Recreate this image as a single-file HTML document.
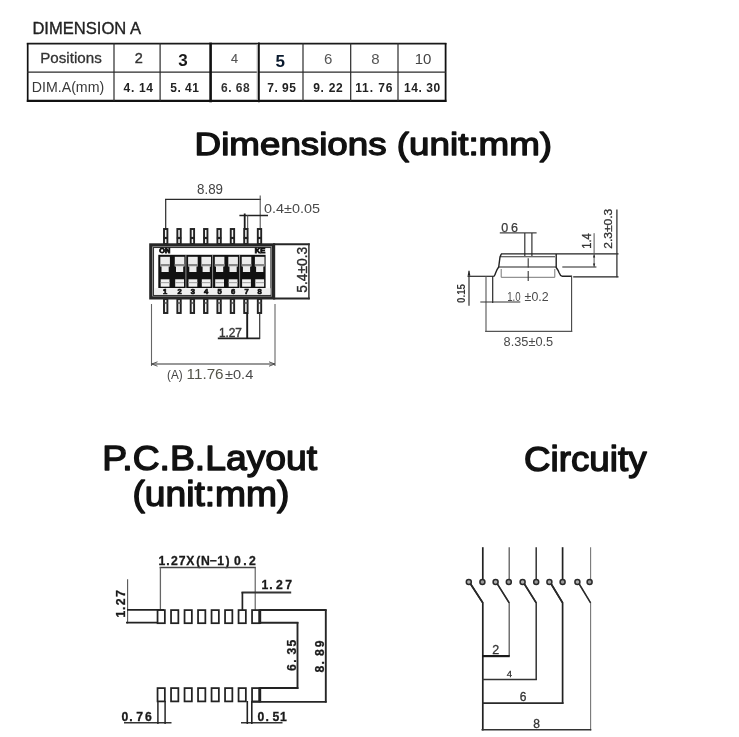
<!DOCTYPE html>
<html>
<head>
<meta charset="utf-8">
<title>Dimensions</title>
<style>
html,body{margin:0;padding:0;background:#fff;}
body{width:739px;height:737px;overflow:hidden;position:relative;font-family:"Liberation Sans",sans-serif;}
svg{position:absolute;left:0;top:0;filter:blur(0.4px);}
text{font-family:"Liberation Sans",sans-serif;}
.h{fill:#111;stroke:#111;stroke-linejoin:round;}
</style>
</head>
<body>
<svg width="739" height="737" viewBox="0 0 739 737">
<rect x="0" y="0" width="739" height="737" fill="#fff"/>

<!-- ===== TABLE ===== -->
<g id="table">
<text x="32.4" y="33.7" font-size="17" fill="#222" stroke="#222" stroke-width="0.35" textLength="108.6" lengthAdjust="spacingAndGlyphs">DIMENSION A</text>
<line x1="26.8" y1="43.6" x2="446.4" y2="43.6" stroke="#1a1a1a" stroke-width="1.7"/>
<line x1="26.8" y1="100.9" x2="446.4" y2="100.9" stroke="#111" stroke-width="2.3"/>
<line x1="27.7" y1="43" x2="27.7" y2="102" stroke="#111" stroke-width="1.7"/>
<line x1="445.6" y1="43" x2="445.6" y2="102" stroke="#111" stroke-width="1.8"/>
<line x1="27" y1="72.1" x2="446" y2="72.1" stroke="#2a2a2a" stroke-width="1.2"/>
<line x1="114" y1="43" x2="114" y2="101" stroke="#2a2a2a" stroke-width="1.2"/>
<line x1="160.1" y1="43" x2="160.1" y2="101" stroke="#2a2a2a" stroke-width="1.2"/>
<line x1="210.6" y1="42.6" x2="210.6" y2="102.3" stroke="#111" stroke-width="2.6"/>
<line x1="257.3" y1="44" x2="257.3" y2="100" stroke="#aaa" stroke-width="1.2"/>
<line x1="258.9" y1="42.6" x2="258.9" y2="102.3" stroke="#111" stroke-width="1.8"/>
<line x1="303" y1="43" x2="303" y2="101" stroke="#2a2a2a" stroke-width="1.2"/>
<line x1="350.7" y1="43" x2="350.7" y2="101" stroke="#2a2a2a" stroke-width="1.2"/>
<line x1="398" y1="43" x2="398" y2="101" stroke="#2a2a2a" stroke-width="1.2"/>
<g fill="#333" text-anchor="middle">
<text x="71" y="63.4" font-size="15.2" stroke="#333" stroke-width="0.3" textLength="61.5" lengthAdjust="spacingAndGlyphs">Positions</text>
<text x="138.8" y="63.4" font-size="14.5" stroke="#333" stroke-width="0.4">2</text>
<text x="183" y="65.9" font-size="17" font-weight="bold" fill="#1a1a1a">3</text>
<text x="234.5" y="63.4" font-size="12.5" fill="#555" stroke="#555" stroke-width="0.2">4</text>
<text x="280.2" y="66.5" font-size="17" font-weight="bold" fill="#0a1a2e">5</text>
<text x="328.2" y="63.8" font-size="15" fill="#555">6</text>
<text x="375.4" y="63.8" font-size="15" fill="#555">8</text>
<text x="423" y="63.8" font-size="15" fill="#444">10</text>
<text x="68" y="92.4" font-size="14.3" fill="#3a3a3a" textLength="72.4" lengthAdjust="spacingAndGlyphs">DIM.A(mm)</text>
</g>
<g font-size="12" fill="#222" font-weight="bold" lengthAdjust="spacing">
<text x="123.5" y="91.7" textLength="29.5" lengthAdjust="spacing">4. 14</text>
<text x="170.3" y="91.5" textLength="28.6" lengthAdjust="spacing">5. 41</text>
<text x="221" y="91.5" textLength="28.6" lengthAdjust="spacing" fill="#333">6. 68</text>
<text x="267.3" y="91.5" textLength="28.6" lengthAdjust="spacing">7. 95</text>
<text x="313.2" y="91.5" textLength="29.6" lengthAdjust="spacing">9. 22</text>
<text x="355.2" y="91.5" textLength="37.2" lengthAdjust="spacing">11. 76</text>
<text x="404" y="91.5" textLength="36.2" lengthAdjust="spacing">14. 30</text>
</g>
</g>

<!-- ===== HEADINGS ===== -->
<text class="h" x="194.6" y="155" font-size="31.3" stroke-width="1.3" textLength="357.5" lengthAdjust="spacingAndGlyphs">Dimensions (unit:mm)</text>
<text class="h" x="102.2" y="469.6" font-size="35.5" stroke-width="1.4" textLength="215" lengthAdjust="spacingAndGlyphs">P.C.B.Layout</text>
<text class="h" x="132.4" y="505.5" font-size="35.5" stroke-width="1.4" textLength="157" lengthAdjust="spacingAndGlyphs">(unit:mm)</text>
<text class="h" x="524" y="470.8" font-size="35.5" stroke-width="1.4" textLength="122.6" lengthAdjust="spacingAndGlyphs">Circuity</text>

<!-- ===== DIP TOP VIEW ===== -->
<g id="dip">
<text x="197" y="194.3" font-size="14" fill="#444" textLength="26" lengthAdjust="spacingAndGlyphs">8.89</text>
<line x1="165" y1="199.4" x2="261" y2="199.4" stroke="#2a2a2a" stroke-width="1.2"/>
<line x1="165.7" y1="199" x2="165.7" y2="229" stroke="#2a2a2a" stroke-width="1.2"/>
<line x1="260.2" y1="195.5" x2="260.2" y2="229" stroke="#555" stroke-width="1.1"/>
<text x="264" y="212.8" font-size="13.5" fill="#4a4a4a" textLength="56" lengthAdjust="spacingAndGlyphs">0.4±0.05</text>
<line x1="239.4" y1="215.5" x2="268" y2="215.5" stroke="#222" stroke-width="1.5"/>
<line x1="244.7" y1="213.5" x2="244.7" y2="229" stroke="#1a1a1a" stroke-width="1.8"/><line x1="247.7" y1="215" x2="247.7" y2="229" stroke="#444" stroke-width="1"/>
<rect x="164.00" y="229" width="3.4" height="15" fill="#f4f4f4" stroke="#222" stroke-width="1.9"/>
<line x1="163.50" y1="238" x2="167.90" y2="238" stroke="#222" stroke-width="2.2"/>
<rect x="164.00" y="299" width="3.4" height="14" fill="#f4f4f4" stroke="#222" stroke-width="1.9"/>
<line x1="163.50" y1="303" x2="167.90" y2="303" stroke="#444" stroke-width="1.4"/>
<rect x="177.35" y="229" width="3.4" height="15" fill="#f4f4f4" stroke="#222" stroke-width="1.9"/>
<line x1="176.85" y1="238" x2="181.25" y2="238" stroke="#222" stroke-width="2.2"/>
<rect x="177.35" y="299" width="3.4" height="14" fill="#f4f4f4" stroke="#222" stroke-width="1.9"/>
<line x1="176.85" y1="303" x2="181.25" y2="303" stroke="#444" stroke-width="1.4"/>
<rect x="190.70" y="229" width="3.4" height="15" fill="#f4f4f4" stroke="#222" stroke-width="1.9"/>
<line x1="190.20" y1="238" x2="194.60" y2="238" stroke="#222" stroke-width="2.2"/>
<rect x="190.70" y="299" width="3.4" height="14" fill="#f4f4f4" stroke="#222" stroke-width="1.9"/>
<line x1="190.20" y1="303" x2="194.60" y2="303" stroke="#444" stroke-width="1.4"/>
<rect x="204.05" y="229" width="3.4" height="15" fill="#f4f4f4" stroke="#222" stroke-width="1.9"/>
<line x1="203.55" y1="238" x2="207.95" y2="238" stroke="#222" stroke-width="2.2"/>
<rect x="204.05" y="299" width="3.4" height="14" fill="#f4f4f4" stroke="#222" stroke-width="1.9"/>
<line x1="203.55" y1="303" x2="207.95" y2="303" stroke="#444" stroke-width="1.4"/>
<rect x="217.40" y="229" width="3.4" height="15" fill="#f4f4f4" stroke="#222" stroke-width="1.9"/>
<line x1="216.90" y1="238" x2="221.30" y2="238" stroke="#222" stroke-width="2.2"/>
<rect x="217.40" y="299" width="3.4" height="14" fill="#f4f4f4" stroke="#222" stroke-width="1.9"/>
<line x1="216.90" y1="303" x2="221.30" y2="303" stroke="#444" stroke-width="1.4"/>
<rect x="230.75" y="229" width="3.4" height="15" fill="#f4f4f4" stroke="#222" stroke-width="1.9"/>
<line x1="230.25" y1="238" x2="234.65" y2="238" stroke="#222" stroke-width="2.2"/>
<rect x="230.75" y="299" width="3.4" height="14" fill="#f4f4f4" stroke="#222" stroke-width="1.9"/>
<line x1="230.25" y1="303" x2="234.65" y2="303" stroke="#444" stroke-width="1.4"/>
<rect x="244.20" y="229" width="3.4" height="15" fill="#f4f4f4" stroke="#222" stroke-width="1.9"/>
<line x1="243.70" y1="238" x2="248.10" y2="238" stroke="#222" stroke-width="2.2"/>
<rect x="244.20" y="299" width="3.4" height="14" fill="#f4f4f4" stroke="#222" stroke-width="1.9"/>
<line x1="243.70" y1="303" x2="248.10" y2="303" stroke="#444" stroke-width="1.4"/>
<rect x="257.80" y="229" width="3.4" height="15" fill="#f4f4f4" stroke="#222" stroke-width="1.9"/>
<line x1="257.30" y1="238" x2="261.70" y2="238" stroke="#222" stroke-width="2.2"/>
<rect x="257.80" y="299" width="3.4" height="14" fill="#f4f4f4" stroke="#222" stroke-width="1.9"/>
<line x1="257.30" y1="303" x2="261.70" y2="303" stroke="#444" stroke-width="1.4"/>
<rect x="150.8" y="244.9" width="122.8" height="53" fill="#fff" stroke="#262626" stroke-width="3.2"/>
<rect x="153.4" y="247.4" width="117.6" height="48" fill="none" stroke="#333" stroke-width="1.3"/>
<rect x="158.3" y="254.8" width="107.3" height="33.2" fill="#111"/>
<rect x="154" y="288.2" width="116.5" height="6.6" fill="#efefef"/>
<rect x="160.30" y="256.8" width="9.6" height="9.7" fill="#ececec"/>
<rect x="161.50" y="266" width="7.2" height="6" fill="#ececec"/>
<rect x="160.30" y="264" width="9.6" height="2.2" fill="#888"/>
<rect x="160.70" y="279.3" width="8.8" height="7.4" fill="#f0f0f0"/>
<rect x="160.70" y="282" width="8.8" height="1.2" fill="#aaa"/>
<text x="165.10" y="294.1" font-size="7.5" font-weight="bold" fill="#111" stroke="#111" stroke-width="0.7" text-anchor="middle">1</text>
<rect x="174.80" y="256.8" width="9.6" height="9.7" fill="#ececec"/>
<rect x="176.00" y="266" width="7.2" height="6" fill="#ececec"/>
<rect x="174.80" y="264" width="9.6" height="2.2" fill="#888"/>
<rect x="175.20" y="279.3" width="8.8" height="7.4" fill="#f0f0f0"/>
<rect x="175.20" y="282" width="8.8" height="1.2" fill="#aaa"/>
<text x="179.60" y="294.1" font-size="7.5" font-weight="bold" fill="#111" stroke="#111" stroke-width="0.7" text-anchor="middle">2</text>
<rect x="188.10" y="256.8" width="9.6" height="9.7" fill="#ececec"/>
<rect x="189.30" y="266" width="7.2" height="6" fill="#ececec"/>
<rect x="188.10" y="264" width="9.6" height="2.2" fill="#888"/>
<rect x="188.50" y="279.3" width="8.8" height="7.4" fill="#f0f0f0"/>
<rect x="188.50" y="282" width="8.8" height="1.2" fill="#aaa"/>
<text x="192.90" y="294.1" font-size="7.5" font-weight="bold" fill="#111" stroke="#111" stroke-width="0.7" text-anchor="middle">3</text>
<rect x="201.40" y="256.8" width="9.6" height="9.7" fill="#ececec"/>
<rect x="202.60" y="266" width="7.2" height="6" fill="#ececec"/>
<rect x="201.40" y="264" width="9.6" height="2.2" fill="#888"/>
<rect x="201.80" y="279.3" width="8.8" height="7.4" fill="#f0f0f0"/>
<rect x="201.80" y="282" width="8.8" height="1.2" fill="#aaa"/>
<text x="206.20" y="294.1" font-size="7.5" font-weight="bold" fill="#111" stroke="#111" stroke-width="0.7" text-anchor="middle">4</text>
<rect x="214.80" y="256.8" width="9.6" height="9.7" fill="#ececec"/>
<rect x="216.00" y="266" width="7.2" height="6" fill="#ececec"/>
<rect x="214.80" y="264" width="9.6" height="2.2" fill="#888"/>
<rect x="215.20" y="279.3" width="8.8" height="7.4" fill="#f0f0f0"/>
<rect x="215.20" y="282" width="8.8" height="1.2" fill="#aaa"/>
<text x="219.60" y="294.1" font-size="7.5" font-weight="bold" fill="#111" stroke="#111" stroke-width="0.7" text-anchor="middle">5</text>
<rect x="228.30" y="256.8" width="9.6" height="9.7" fill="#ececec"/>
<rect x="229.50" y="266" width="7.2" height="6" fill="#ececec"/>
<rect x="228.30" y="264" width="9.6" height="2.2" fill="#888"/>
<rect x="228.70" y="279.3" width="8.8" height="7.4" fill="#f0f0f0"/>
<rect x="228.70" y="282" width="8.8" height="1.2" fill="#aaa"/>
<text x="233.10" y="294.1" font-size="7.5" font-weight="bold" fill="#111" stroke="#111" stroke-width="0.7" text-anchor="middle">6</text>
<rect x="241.70" y="256.8" width="9.6" height="9.7" fill="#ececec"/>
<rect x="242.90" y="266" width="7.2" height="6" fill="#ececec"/>
<rect x="241.70" y="264" width="9.6" height="2.2" fill="#888"/>
<rect x="242.10" y="279.3" width="8.8" height="7.4" fill="#f0f0f0"/>
<rect x="242.10" y="282" width="8.8" height="1.2" fill="#aaa"/>
<text x="246.50" y="294.1" font-size="7.5" font-weight="bold" fill="#111" stroke="#111" stroke-width="0.7" text-anchor="middle">7</text>
<rect x="254.90" y="256.8" width="9.6" height="9.7" fill="#ececec"/>
<rect x="256.10" y="266" width="7.2" height="6" fill="#ececec"/>
<rect x="254.90" y="264" width="9.6" height="2.2" fill="#888"/>
<rect x="255.30" y="279.3" width="8.8" height="7.4" fill="#f0f0f0"/>
<rect x="255.30" y="282" width="8.8" height="1.2" fill="#aaa"/>
<text x="259.70" y="294.1" font-size="7.5" font-weight="bold" fill="#111" stroke="#111" stroke-width="0.7" text-anchor="middle">8</text>
<line x1="185.9" y1="255" x2="185.9" y2="288" stroke="#999" stroke-width="0.9"/>
<line x1="212.6" y1="255" x2="212.6" y2="288" stroke="#999" stroke-width="0.9"/>
<line x1="239.6" y1="255" x2="239.6" y2="288" stroke="#999" stroke-width="0.9"/>
<text x="159.3" y="253.4" font-size="6.5" font-weight="bold" fill="#111" stroke="#111" stroke-width="0.8" textLength="11" lengthAdjust="spacingAndGlyphs">ON</text>
<text x="254.8" y="253" font-size="6.5" font-weight="bold" fill="#111" stroke="#111" stroke-width="0.8" textLength="10.5" lengthAdjust="spacingAndGlyphs">KE</text>
<line x1="273" y1="244.3" x2="309.8" y2="244.3" stroke="#262626" stroke-width="2"/>
<line x1="273" y1="298.4" x2="309.8" y2="298.4" stroke="#262626" stroke-width="2"/>
<line x1="308.9" y1="243.5" x2="308.9" y2="299.3" stroke="#333" stroke-width="1.5"/>
<text transform="translate(306.6,292.8) rotate(-90)" font-size="14" fill="#2a2a2a" stroke="#2a2a2a" stroke-width="0.35" textLength="46" lengthAdjust="spacingAndGlyphs">5.4±0.3</text>
<text x="218.9" y="336.7" font-size="12" fill="#3a3a3a" stroke="#3a3a3a" stroke-width="0.45" textLength="23" lengthAdjust="spacingAndGlyphs">1.27</text>
<line x1="217.8" y1="338.3" x2="260" y2="338.3" stroke="#222" stroke-width="1.8"/>
<line x1="247.2" y1="313" x2="247.2" y2="339" stroke="#1a1a1a" stroke-width="1.9"/>
<line x1="259.7" y1="313" x2="259.7" y2="339" stroke="#333" stroke-width="1.2"/>
<line x1="151.5" y1="304" x2="151.5" y2="366" stroke="#666" stroke-width="1.1"/>
<line x1="275" y1="304" x2="275" y2="366" stroke="#666" stroke-width="1.1"/>
<line x1="151.5" y1="364" x2="275" y2="364" stroke="#333" stroke-width="1.2"/>
<path d="M157.5 361.8 L151.8 364 L157.5 366.2 M269 361.8 L274.7 364 L269 366.2" stroke="#444" stroke-width="0.9" fill="none"/>
<text x="167" y="379.2" font-size="13.5" fill="#444" textLength="15.6" lengthAdjust="spacingAndGlyphs">(A)</text>
<text x="186.6" y="379.1" font-size="13.8" fill="#55554a" textLength="37" lengthAdjust="spacingAndGlyphs">11.76</text>
<text x="225" y="379.3" font-size="13.5" fill="#4a4a4a" textLength="28.3" lengthAdjust="spacingAndGlyphs">±0.4</text>
</g>

<!-- ===== SIDE VIEW ===== -->
<g id="side">
<text x="501.2" y="231.5" font-size="12.5" fill="#3a3a3a" stroke="#3a3a3a" stroke-width="0.25" textLength="16.8" lengthAdjust="spacing">0 6</text>
<line x1="499.8" y1="232.9" x2="536.6" y2="232.9" stroke="#444" stroke-width="1.1"/>
<line x1="524.8" y1="232.9" x2="524.8" y2="256" stroke="#333" stroke-width="1.2"/>
<line x1="531.9" y1="232.9" x2="531.9" y2="256" stroke="#333" stroke-width="1.2"/>
<line x1="501" y1="253.9" x2="618.5" y2="253.9" stroke="#222" stroke-width="1.3"/>
<line x1="500" y1="256.8" x2="555" y2="256.8" stroke="#333" stroke-width="1.1"/>
<path d="M501.3 253.9 L500 257 L498.7 267 C497.5 268.5 496.5 270.5 495.7 272.8 C495.2 274.5 494.8 275.6 494 276.2" stroke="#222" stroke-width="1.4" fill="none"/>
<path d="M556.2 253.9 L556.2 267.5 C557.3 269 558.3 270.5 559 272.5 C559.8 274.6 560.6 275.8 562 276.2 L571.8 276.2" stroke="#222" stroke-width="1.4" fill="none"/>
<line x1="498.7" y1="267" x2="556.2" y2="267" stroke="#222" stroke-width="1.2"/>
<path d="M501.2 269 L501.2 277.3 L554.8 277.3 L554.8 269" stroke="#777" stroke-width="1" fill="none"/>
<line x1="528.2" y1="258.2" x2="528.2" y2="267.5" stroke="#333" stroke-width="1.1"/>
<line x1="528.2" y1="271" x2="528.2" y2="281" stroke="#333" stroke-width="1.1"/>
<line x1="467.5" y1="276.3" x2="494.3" y2="276.3" stroke="#2a2a2a" stroke-width="1.2"/>
<line x1="469" y1="270.7" x2="469" y2="305.7" stroke="#333" stroke-width="1.2"/>
<path d="M467.6 275.5 L469 270.5 L470.4 275.5 Z" fill="#222"/>
<text transform="translate(465.2,303) rotate(-90)" font-size="10" font-weight="bold" fill="#333" textLength="19" lengthAdjust="spacingAndGlyphs">0.15</text>
<line x1="486" y1="276.3" x2="486" y2="332" stroke="#555" stroke-width="1.1"/>
<line x1="492.7" y1="276.3" x2="492.7" y2="303" stroke="#2a2a2a" stroke-width="1.2"/>
<line x1="480.3" y1="302" x2="520.3" y2="302" stroke="#333" stroke-width="1.1"/>
<text x="507.2" y="301.2" font-size="12" fill="#4a4a4a" textLength="13.4" lengthAdjust="spacingAndGlyphs">1.0</text>
<text x="524.6" y="301.2" font-size="12" fill="#4a4a4a" textLength="24" lengthAdjust="spacingAndGlyphs">±0.2</text>
<line x1="571.6" y1="275.8" x2="571.6" y2="332" stroke="#444" stroke-width="1.1"/>
<line x1="485.2" y1="331.4" x2="572.2" y2="331.4" stroke="#555" stroke-width="1.1"/>
<text x="503.6" y="346.4" font-size="13.2" fill="#4a4a4a" textLength="49.6" lengthAdjust="spacingAndGlyphs">8.35±0.5</text>
<line x1="562.3" y1="267" x2="596.4" y2="267" stroke="#222" stroke-width="1.2"/>
<line x1="594.1" y1="233.2" x2="594.1" y2="267" stroke="#555" stroke-width="1"/>
<path d="M593 257.5 L594.1 254.3 L595.2 257.5 Z M593 263.5 L594.1 266.8 L595.2 263.5 Z" fill="#222"/>
<text transform="translate(591.3,248.8) rotate(-90)" font-size="12" fill="#333" stroke="#333" stroke-width="0.3" textLength="15.5" lengthAdjust="spacingAndGlyphs">1.4</text>
<line x1="573.2" y1="276.9" x2="618.5" y2="276.9" stroke="#222" stroke-width="1.3"/>
<line x1="616.9" y1="209.5" x2="616.9" y2="277.3" stroke="#333" stroke-width="1.3"/>
<text transform="translate(612.3,248.8) rotate(-90)" font-size="11.5" fill="#333" stroke="#333" stroke-width="0.3" textLength="40" lengthAdjust="spacingAndGlyphs">2.3±0.3</text>
</g>

<!-- ===== PCB ===== -->
<g id="pcb">
<text x="162.0 167.9 174.4 182.1 190.2 198.4 205.3 213.1 220.6 227.6 237.3 245.0 252.5" y="565.2" font-size="12.2" font-weight="bold" fill="#1a1a1a" stroke="#1a1a1a" stroke-width="0.3" text-anchor="middle">1.27X(N−1)0.2</text>
<line x1="159.6" y1="567.5" x2="255.8" y2="567.5" stroke="#444" stroke-width="1.3"/>
<line x1="160.4" y1="567.5" x2="160.4" y2="609.5" stroke="#666" stroke-width="1.3"/>
<line x1="255.2" y1="567.5" x2="255.2" y2="610" stroke="#555" stroke-width="1.1"/>
<text x="264.9 271.0 279.5 288.6" y="588.6" font-size="12.2" font-weight="bold" fill="#1a1a1a" stroke="#1a1a1a" stroke-width="0.3" text-anchor="middle">1.27</text>
<line x1="241.5" y1="592.5" x2="291.2" y2="592.5" stroke="#333" stroke-width="1.9"/>
<line x1="242.4" y1="592" x2="242.4" y2="610" stroke="#222" stroke-width="1.7"/>
<text transform="translate(125.3,614) rotate(-90)" x="0.0 5.7 12.2 20.3" y="0" font-size="12.2" font-weight="bold" fill="#1a1a1a" stroke="#1a1a1a" stroke-width="0.3" text-anchor="middle">1.27</text>
<line x1="127.6" y1="579.3" x2="127.6" y2="623.4" stroke="#555" stroke-width="1.1"/>
<line x1="127" y1="609.9" x2="164" y2="609.9" stroke="#222" stroke-width="1.8"/>
<line x1="126" y1="622.7" x2="164" y2="622.7" stroke="#222" stroke-width="1.8"/>
<rect x="157.55" y="610.1" width="7.3" height="13.1" fill="#fff" stroke="#222" stroke-width="1.75"/>
<rect x="157.55" y="688.1" width="7.3" height="13.3" fill="#fff" stroke="#222" stroke-width="1.75"/>
<rect x="171.05" y="610.1" width="7.3" height="13.1" fill="#fff" stroke="#222" stroke-width="1.75"/>
<rect x="171.05" y="688.1" width="7.3" height="13.3" fill="#fff" stroke="#222" stroke-width="1.75"/>
<rect x="184.55" y="610.1" width="7.3" height="13.1" fill="#fff" stroke="#222" stroke-width="1.75"/>
<rect x="184.55" y="688.1" width="7.3" height="13.3" fill="#fff" stroke="#222" stroke-width="1.75"/>
<rect x="198.05" y="610.1" width="7.3" height="13.1" fill="#fff" stroke="#222" stroke-width="1.75"/>
<rect x="198.05" y="688.1" width="7.3" height="13.3" fill="#fff" stroke="#222" stroke-width="1.75"/>
<rect x="211.55" y="610.1" width="7.3" height="13.1" fill="#fff" stroke="#222" stroke-width="1.75"/>
<rect x="211.55" y="688.1" width="7.3" height="13.3" fill="#fff" stroke="#222" stroke-width="1.75"/>
<rect x="225.05" y="610.1" width="7.3" height="13.1" fill="#fff" stroke="#222" stroke-width="1.75"/>
<rect x="225.05" y="688.1" width="7.3" height="13.3" fill="#fff" stroke="#222" stroke-width="1.75"/>
<rect x="238.55" y="610.1" width="7.3" height="13.1" fill="#fff" stroke="#222" stroke-width="1.75"/>
<rect x="238.55" y="688.1" width="7.3" height="13.3" fill="#fff" stroke="#222" stroke-width="1.75"/>
<rect x="252.05" y="610.1" width="7.3" height="13.1" fill="#fff" stroke="#222" stroke-width="1.75"/>
<rect x="252.05" y="688.1" width="7.3" height="13.3" fill="#fff" stroke="#222" stroke-width="1.75"/>
<line x1="259.9" y1="609.3" x2="259.9" y2="624" stroke="#222" stroke-width="2.6"/>
<line x1="259.9" y1="687.2" x2="259.9" y2="702.4" stroke="#222" stroke-width="2.6"/>
<line x1="260" y1="610.1" x2="326.6" y2="610.1" stroke="#262626" stroke-width="2"/>
<line x1="260" y1="622.7" x2="298.4" y2="622.7" stroke="#262626" stroke-width="2"/>
<line x1="297.5" y1="622" x2="297.5" y2="689" stroke="#262626" stroke-width="1.9"/>
<line x1="325.8" y1="609.5" x2="325.8" y2="702.6" stroke="#262626" stroke-width="1.9"/>
<line x1="260" y1="688" x2="298.4" y2="688" stroke="#222" stroke-width="2.2"/>
<line x1="252" y1="701.9" x2="326.6" y2="701.9" stroke="#262626" stroke-width="1.6"/>
<text transform="translate(296,667.5) rotate(-90)" x="0.0 6.5 16.5 24.3" y="0" font-size="12.2" font-weight="bold" fill="#1a1a1a" stroke="#1a1a1a" stroke-width="0.3" text-anchor="middle">6.35</text>
<text transform="translate(324.1,669.2) rotate(-90)" x="0.0 6.4 16.5 25.3" y="0" font-size="12.2" font-weight="bold" fill="#1a1a1a" stroke="#1a1a1a" stroke-width="0.3" text-anchor="middle">8.89</text>
<text x="124.8 131.0 139.7 148.4" y="721" font-size="12.2" font-weight="bold" fill="#1a1a1a" stroke="#1a1a1a" stroke-width="0.3" text-anchor="middle">0.76</text>
<line x1="124" y1="722.8" x2="171.5" y2="722.8" stroke="#333" stroke-width="1.5"/>
<line x1="157.9" y1="701" x2="157.9" y2="724" stroke="#262626" stroke-width="1.5"/>
<line x1="165.1" y1="701" x2="165.1" y2="724" stroke="#262626" stroke-width="1.5"/>
<text x="260.9 267.1 275.9 283.5" y="721" font-size="12.2" font-weight="bold" fill="#1a1a1a" stroke="#1a1a1a" stroke-width="0.3" text-anchor="middle">0.51</text>
<line x1="241" y1="722.7" x2="282.5" y2="722.7" stroke="#333" stroke-width="1.5"/>
<line x1="247.3" y1="701" x2="247.3" y2="724" stroke="#222" stroke-width="1.6"/>
<line x1="251.8" y1="701" x2="251.8" y2="724" stroke="#222" stroke-width="1.6"/>
</g>

<!-- ===== CIRCUIT ===== -->
<g id="circuit">
<line x1="482.8" y1="547.2" x2="482.8" y2="580" stroke="#222" stroke-width="1.7"/>
<path d="M470.6 584 L482.8 602.8 L482.8 730.6" stroke="#222" stroke-width="1.7" fill="none" stroke-linejoin="miter"/>
<line x1="470.6" y1="584" x2="482.8" y2="602.8" stroke="#2a2a2a" stroke-width="1.5"/>
<line x1="509.2" y1="547.2" x2="509.2" y2="580" stroke="#555" stroke-width="1.25"/>
<path d="M497.4 584 L509.2 602.8 L509.2 656.1" stroke="#555" stroke-width="1.25" fill="none" stroke-linejoin="miter"/>
<line x1="497.4" y1="584" x2="509.2" y2="602.8" stroke="#2a2a2a" stroke-width="1.5"/>
<line x1="536.2" y1="547.2" x2="536.2" y2="580" stroke="#333" stroke-width="1.5"/>
<path d="M524.4 584 L536.2 602.8 L536.2 679.9" stroke="#333" stroke-width="1.5" fill="none" stroke-linejoin="miter"/>
<line x1="524.4" y1="584" x2="536.2" y2="602.8" stroke="#2a2a2a" stroke-width="1.5"/>
<line x1="562.6" y1="547.2" x2="562.6" y2="580" stroke="#222" stroke-width="1.7"/>
<path d="M551.2 584 L562.6 602.8 L562.6 703.6" stroke="#222" stroke-width="1.7" fill="none" stroke-linejoin="miter"/>
<line x1="551.2" y1="584" x2="562.6" y2="602.8" stroke="#2a2a2a" stroke-width="1.5"/>
<line x1="590.6" y1="547.2" x2="590.6" y2="580" stroke="#777" stroke-width="1.1"/>
<path d="M579.2 584 L590.6 602.8 L590.6 730.6" stroke="#777" stroke-width="1.1" fill="none" stroke-linejoin="miter"/>
<line x1="579.2" y1="584" x2="590.6" y2="602.8" stroke="#2a2a2a" stroke-width="1.5"/>
<circle cx="468.8" cy="582.1" r="2.5" fill="#b0b0b0" stroke="#2a2a2a" stroke-width="1.5"/>
<circle cx="482.4" cy="582.1" r="2.5" fill="#9a9a9a" stroke="#2a2a2a" stroke-width="1.5"/>
<circle cx="495.6" cy="582.1" r="2.5" fill="#b0b0b0" stroke="#2a2a2a" stroke-width="1.5"/>
<circle cx="508.8" cy="582.1" r="2.5" fill="#9a9a9a" stroke="#2a2a2a" stroke-width="1.5"/>
<circle cx="522.6" cy="582.1" r="2.5" fill="#b0b0b0" stroke="#2a2a2a" stroke-width="1.5"/>
<circle cx="536.2" cy="582.1" r="2.5" fill="#9a9a9a" stroke="#2a2a2a" stroke-width="1.5"/>
<circle cx="549.4" cy="582.1" r="2.5" fill="#b0b0b0" stroke="#2a2a2a" stroke-width="1.5"/>
<circle cx="562.6" cy="582.1" r="2.5" fill="#9a9a9a" stroke="#2a2a2a" stroke-width="1.5"/>
<circle cx="577.4" cy="582.1" r="2.5" fill="#b0b0b0" stroke="#2a2a2a" stroke-width="1.5"/>
<circle cx="589.6" cy="582.1" r="2.5" fill="#9a9a9a" stroke="#2a2a2a" stroke-width="1.5"/>
<line x1="482" y1="656.1" x2="509.8" y2="656.1" stroke="#1a1a1a" stroke-width="2.2"/>
<line x1="482" y1="679.5" x2="536.9" y2="679.5" stroke="#333" stroke-width="1.4"/>
<line x1="482" y1="703.2" x2="563.6" y2="703.2" stroke="#2a2a2a" stroke-width="1.7"/>
<line x1="481.5" y1="729.8" x2="591.3" y2="729.8" stroke="#333" stroke-width="1.4"/>
<text x="495.8" y="653.5" font-size="12.5" fill="#333" stroke="#333" stroke-width="0.3" text-anchor="middle">2</text>
<text x="509.3" y="676.8" font-size="9.5" fill="#333" stroke="#333" stroke-width="0.3" text-anchor="middle">4</text>
<text x="523" y="701" font-size="12" fill="#333" stroke="#333" stroke-width="0.3" text-anchor="middle">6</text>
<text x="536.5" y="727.6" font-size="12" fill="#333" stroke="#333" stroke-width="0.3" text-anchor="middle">8</text>
</g>

</svg>
</body>
</html>
